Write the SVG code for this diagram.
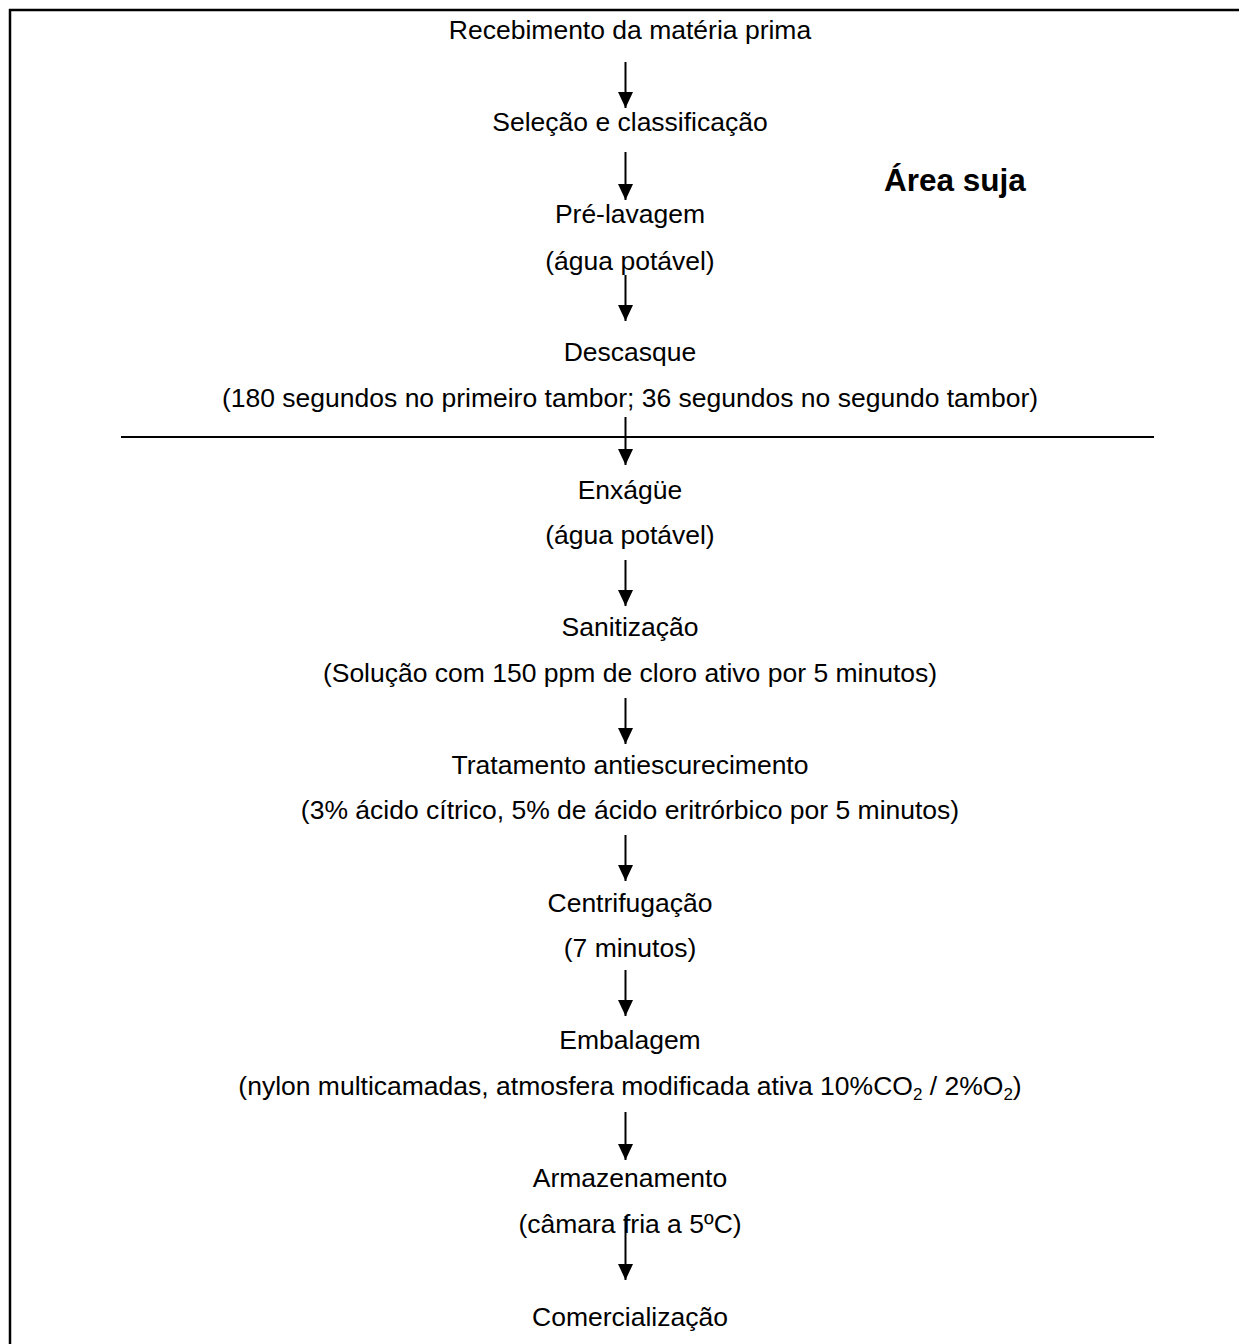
<svg xmlns="http://www.w3.org/2000/svg" width="1239" height="1344" viewBox="0 0 1239 1344">
<style>
text{font-family:"Liberation Sans",Arial,sans-serif;font-size:26.5px;fill:#000;text-anchor:middle}
.b{font-weight:bold;font-size:31.5px;text-anchor:start}
.sub{font-size:17px}
.c{stroke:#000;stroke-width:2;fill:none}
</style>
<defs>
<marker id="ah" markerUnits="userSpaceOnUse" markerWidth="16" markerHeight="15" refX="16" refY="7.5" orient="auto" viewBox="0 0 16 15">
<path d="M0,0 L16,7.5 L0,15 Z" fill="#000"/>
</marker>
</defs>
<rect width="1239" height="1344" fill="#fff"/>
<g id="frame">
<line x1="9" y1="10" x2="1239" y2="10" stroke="#000" stroke-width="2.5"/>
<line x1="10" y1="9" x2="10" y2="1344" stroke="#000" stroke-width="2.5"/>
<line x1="121" y1="437" x2="1154" y2="437" stroke="#000" stroke-width="2"/>
</g>
<g id="label-area"><text class="b" x="884" y="191">Área suja</text></g>
<g id="n1"><text x="630" y="39">Recebimento da matéria prima</text></g>
<g id="n2"><text x="630" y="131">Seleção e classificação</text></g>
<g id="n3"><text x="630" y="223">Pré-lavagem</text><text x="630" y="270">(água potável)</text></g>
<g id="n4"><text x="630" y="361">Descasque</text><text x="630" y="407">(180 segundos no primeiro tambor; 36 segundos no segundo tambor)</text></g>
<g id="n5"><text x="630" y="499">Enxágüe</text><text x="630" y="544">(água potável)</text></g>
<g id="n6"><text x="630" y="636">Sanitização</text><text x="630" y="682">(Solução com 150 ppm de cloro ativo por 5 minutos)</text></g>
<g id="n7"><text x="630" y="774">Tratamento antiescurecimento</text><text x="630" y="819">(3% ácido cítrico, 5% de ácido eritrórbico por 5 minutos)</text></g>
<g id="n8"><text x="630" y="912">Centrifugação</text><text x="630" y="957">(7 minutos)</text></g>
<g id="n9"><text x="630" y="1049">Embalagem</text><text x="630" y="1095">(nylon multicamadas, atmosfera modificada ativa 10%CO<tspan class="sub" dy="5">2</tspan><tspan dy="-5"> / 2%O</tspan><tspan class="sub" dy="5">2</tspan><tspan dy="-5">)</tspan></text></g>
<g id="n10"><text x="630" y="1187">Armazenamento</text><text x="630" y="1233">(câmara fria a 5ºC)</text></g>
<g id="n11"><text x="630" y="1326">Comercialização</text></g>
<g id="connectors" class="c">
<line class="c" x1="625.5" y1="62" x2="625.5" y2="108" marker-end="url(#ah)"/>
<line class="c" x1="625.5" y1="152" x2="625.5" y2="200" marker-end="url(#ah)"/>
<line class="c" x1="625.5" y1="275" x2="625.5" y2="321" marker-end="url(#ah)"/>
<line class="c" x1="625.5" y1="417" x2="625.5" y2="465" marker-end="url(#ah)"/>
<line class="c" x1="625.5" y1="560" x2="625.5" y2="606" marker-end="url(#ah)"/>
<line class="c" x1="625.5" y1="698" x2="625.5" y2="744" marker-end="url(#ah)"/>
<line class="c" x1="625.5" y1="835" x2="625.5" y2="881" marker-end="url(#ah)"/>
<line class="c" x1="625.5" y1="970" x2="625.5" y2="1016" marker-end="url(#ah)"/>
<line class="c" x1="625.5" y1="1112" x2="625.5" y2="1160" marker-end="url(#ah)"/>
<line class="c" x1="625.5" y1="1216" x2="625.5" y2="1280" marker-end="url(#ah)"/>
</g>
</svg>
